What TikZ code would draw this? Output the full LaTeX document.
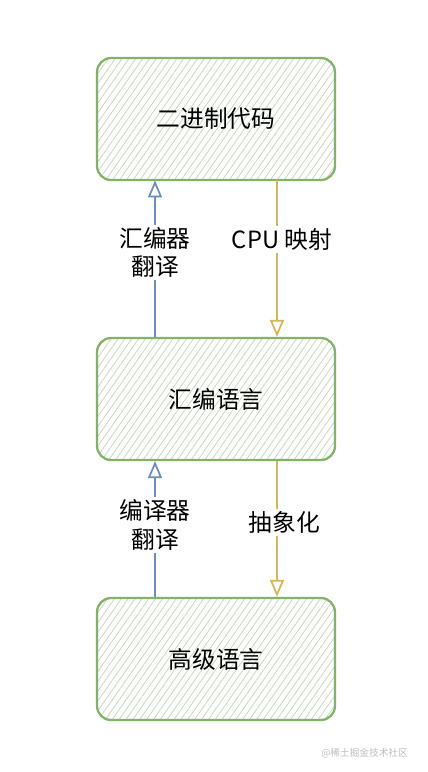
\documentclass[tikz,border=0pt]{standalone}
\usepackage{fontspec}
\setmainfont{Noto Sans CJK SC}
\usetikzlibrary{arrows.meta,patterns.meta}
\definecolor{leaf}  {HTML}{82B366}
\definecolor{hatch} {HTML}{C4DABB}
\definecolor{ink}   {HTML}{6C8EBF}
\definecolor{amber} {HTML}{D6B656}
\definecolor{faint} {HTML}{BDBDBD}

\begin{document}
\begin{tikzpicture}[x=0.02cm,y=-0.02cm,font=\fontsize{13.5}{15}\selectfont,
  layer/.style={draw=leaf,line width=1.3pt,rounded corners=8pt,
                minimum width=4.76cm,minimum height=2.44cm,
                pattern={Lines[angle=55,distance=3.2pt,line width=0.45pt]},
                pattern color=hatch},
  tag/.style={fill=white,text=black,inner sep=1.5pt,align=center,
              font=\fontsize{13.5}{16}\selectfont},
  upar/.style={-{Triangle[open,length=3.4mm,width=2.8mm,fill=white]},
               color=ink,line width=1pt},
  dnar/.style={-{Triangle[open,length=3.4mm,width=2.8mm,fill=white]},
               color=amber,line width=1pt}]
  \useasboundingbox (0,0) rectangle (428,772);

  \node[layer] (bin)  at (216,119) {};
  \node        at (bin)  {二进制代码};
  \node[layer] (asm)  at (216,399) {};
  \node        at (asm)  {汇编语言};
  \node[layer] (high) at (216,659) {};
  \node        at (high) {高级语言};

  \draw[upar] ([xshift=-1.22cm]asm.north) -- ([xshift=-1.22cm]bin.south)
    node[tag,pos=0.54] {汇编器\\翻译};
  \draw[dnar] ([xshift=1.22cm]bin.south) -- ([xshift=1.22cm]asm.north)
    node[tag,pos=0.38,xshift=0.1cm] {CPU 映射};
  \draw[upar] ([xshift=-1.22cm]high.north) -- ([xshift=-1.22cm]asm.south)
    node[tag,pos=0.53] {编译器\\翻译};
  \draw[dnar] ([xshift=1.22cm]asm.south) -- ([xshift=1.22cm]high.north)
    node[tag,pos=0.45,xshift=0.15cm] {抽象化};

  \node[color=faint,font=\fontsize{5.5}{6}\selectfont,anchor=east] (mark)
    at (414,753) {@稀土掘金技术社区};
\end{tikzpicture}
\end{document}
